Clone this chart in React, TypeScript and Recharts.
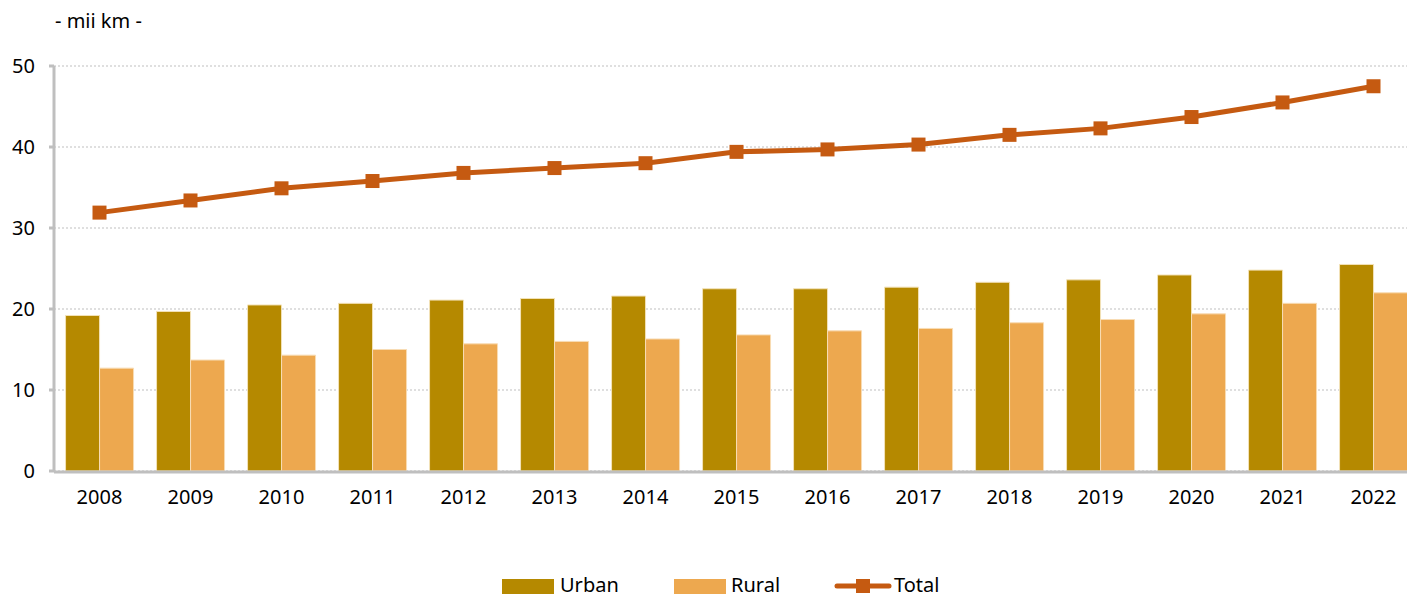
import React from 'react';
import {
  ComposedChart,
  Bar,
  Line,
  XAxis,
  YAxis,
  CartesianGrid
} from 'recharts';

const years = ['2008', '2009', '2010', '2011', '2012', '2013', '2014', '2015', '2016', '2017', '2018', '2019', '2020', '2021', '2022'];
const urban = [19.2, 19.7, 20.5, 20.7, 21.1, 21.3, 21.6, 22.5, 22.5, 22.7, 23.3, 23.6, 24.2, 24.8, 25.5];
const rural = [12.7, 13.7, 14.3, 15.0, 15.7, 16.0, 16.3, 16.8, 17.3, 17.6, 18.3, 18.7, 19.4, 20.7, 22.0];
const total = [31.9, 33.4, 34.9, 35.8, 36.8, 37.4, 38.0, 39.4, 39.7, 40.3, 41.5, 42.3, 43.7, 45.5, 47.5];
const yTicks = [0, 10, 20, 30, 40, 50];
const edgeTicks = years.map((_, i) => i).concat([years.length]);

const URBAN = '#b58900';
const RURAL = '#eda84f';
const TOTAL = '#c55a11';
const AXIS = '#bfbfbf';
const FONT = '"Noto Sans", "Open Sans", sans-serif';

const chartData = years.map((year, i) => ({
  year,
  urban: urban[i],
  rural: rural[i],
  total: total[i]
}));

const SquareDot = (props: any) => {
  const { cx, cy } = props;
  if (cx == null || cy == null) return null;
  return <rect x={cx - 7} y={cy - 7} width={14} height={14} fill={TOTAL} />;
};

const Legend = () => (
  <div
    style={{
      position: 'absolute',
      top: 575,
      left: 0,
      width: 1407,
      fontFamily: FONT,
      fontSize: 20,
      color: '#000',
      lineHeight: '20px'
    }}
  >
    <div style={{ position: 'absolute', left: 502, top: 4, width: 52, height: 15, background: URBAN }} />
    <span style={{ position: 'absolute', left: 560, top: 0 }}>Urban</span>
    <div style={{ position: 'absolute', left: 674, top: 4, width: 52, height: 15, background: RURAL }} />
    <span style={{ position: 'absolute', left: 731, top: 0 }}>Rural</span>
    <svg style={{ position: 'absolute', left: 834, top: 3 }} width={58} height={16}>
      <line x1={3} y1={8} x2={55} y2={8} stroke={TOTAL} strokeWidth={5} strokeLinecap="round" />
      <rect x={22} y={1} width={14} height={14} fill={TOTAL} />
    </svg>
    <span style={{ position: 'absolute', left: 894, top: 0 }}>Total</span>
  </div>
);

const App: React.FC = () => {
  return (
    <div
      style={{
        position: 'absolute',
        left: 0,
        top: 0,
        width: 1407,
        height: 595,
        overflow: 'hidden',
        background: '#fff'
      }}
    >
      <div
        style={{
          position: 'absolute',
          left: 55,
          top: 8,
          fontFamily: FONT,
          fontSize: 20,
          color: '#000',
          lineHeight: '26px'
        }}
      >
        - mii km -
      </div>
      <ComposedChart
        width={1430}
        height={595}
        data={chartData}
        margin={{ top: 66, right: 11, left: 0, bottom: 122 }}
        barGap={0}
        barCategoryGap="12.7%"
        style={{ fontFamily: FONT }}
      >
        <CartesianGrid vertical={false} stroke={AXIS} strokeDasharray="2 2" />
        <XAxis
          xAxisId="edges"
          type="number"
          domain={[0, years.length]}
          ticks={edgeTicks}
          height={1}
          tick={false}
          tickSize={6}
          axisLine={{ stroke: AXIS, strokeWidth: 3 }}
          tickLine={{ stroke: AXIS, strokeWidth: 3 }}
        />
        <XAxis
          dataKey="year"
          height={1}
          axisLine={false}
          tickLine={false}
          tickMargin={13}
          interval={0}
          tick={{ fontSize: 20, fill: '#000' }}
        />
        <YAxis
          width={54}
          domain={[0, 50]}
          ticks={yTicks}
          interval={0}
          tickSize={5}
          tickMargin={14}
          axisLine={{ stroke: AXIS, strokeWidth: 3 }}
          tickLine={{ stroke: AXIS, strokeWidth: 3 }}
          tick={{ fontSize: 20, fill: '#000' }}
        />
        <Bar dataKey="urban" fill={URBAN} stroke="#f3e2b8" strokeWidth={1} isAnimationActive={false} />
        <Bar dataKey="rural" fill={RURAL} stroke="#f8dcb4" strokeWidth={1} isAnimationActive={false} />
        <Line
          dataKey="total"
          stroke={TOTAL}
          strokeWidth={5}
          dot={<SquareDot />}
          activeDot={false}
          isAnimationActive={false}
        />
      </ComposedChart>
      <Legend />
    </div>
  );
};

export default App;
